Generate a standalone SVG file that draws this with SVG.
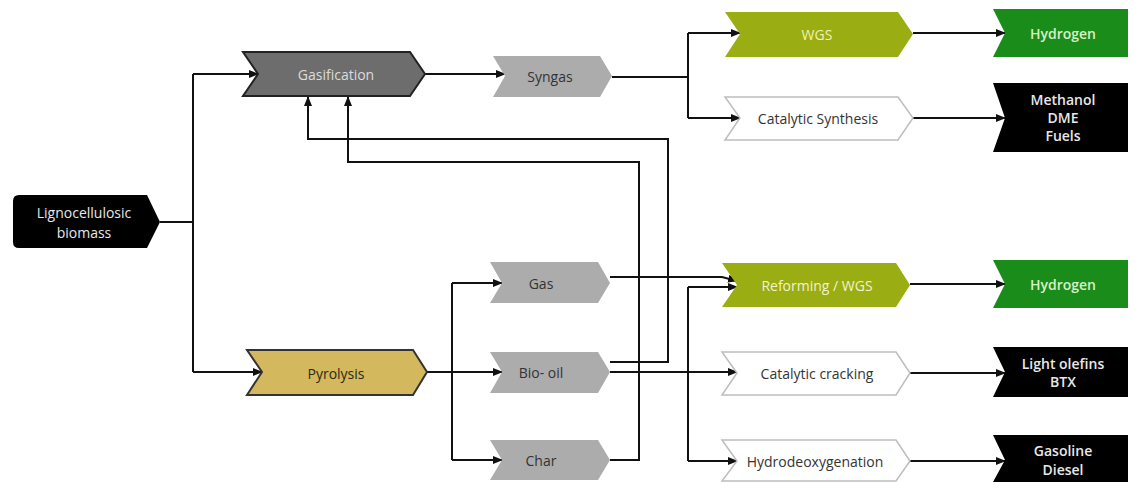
<svg xmlns="http://www.w3.org/2000/svg" width="1137" height="482" viewBox="0 0 1137 482">
<style>
text{font-family:"Open Sans","Liberation Sans",sans-serif;font-size:14px;text-anchor:middle;dominant-baseline:central}
.c{fill:none;stroke:#111;stroke-width:2}
.lt{fill:#e8e8e8}
.dk{fill:#333}
.out{font-weight:600}
</style>
<defs>
<marker id="ah" markerWidth="10" markerHeight="8" refX="9" refY="4" orient="auto" markerUnits="userSpaceOnUse">
<path d="M0,0 L10,4 L0,8 Z" fill="#111"/>
</marker>
</defs>
<rect width="1137" height="482" fill="#fff"/>
<g id="connectors">
<polyline class="c" points="160,222 193,222"/>
<polyline class="c" points="193,74 193,372"/>
<polyline class="c" points="193,74 258,74" marker-end="url(#ah)"/>
<polyline class="c" points="193,372 262,372" marker-end="url(#ah)"/>
<polyline class="c" points="425,74 505,74" marker-end="url(#ah)"/>
<polyline class="c" points="612,77 688,77"/>
<polyline class="c" points="688,33 688,118"/>
<polyline class="c" points="688,33 740,33" marker-end="url(#ah)"/>
<polyline class="c" points="688,118 740,118" marker-end="url(#ah)"/>
<polyline class="c" points="913,33 1005,33" marker-end="url(#ah)"/>
<polyline class="c" points="913,118 1005,118" marker-end="url(#ah)"/>
<polyline class="c" points="610,362 668,362 668,139 308,139 308,97" marker-end="url(#ah)"/>
<polyline class="c" points="610,460 639,460 639,162 348,162 348,97" marker-end="url(#ah)"/>
<polyline class="c" points="427,372 502,372" marker-end="url(#ah)"/>
<polyline class="c" points="452,283 452,460"/>
<polyline class="c" points="452,283 502,283" marker-end="url(#ah)"/>
<polyline class="c" points="452,460 502,460" marker-end="url(#ah)"/>
<polyline class="c" points="610,277 722,277 737,281" marker-end="url(#ah)"/>
<polyline class="c" points="610,372 737,372" marker-end="url(#ah)"/>
<polyline class="c" points="688,287 688,461"/>
<polyline class="c" points="688,287 737,287" marker-end="url(#ah)"/>
<polyline class="c" points="688,461 737,461" marker-end="url(#ah)"/>
<polyline class="c" points="910,284 1005,284" marker-end="url(#ah)"/>
<polyline class="c" points="910,373 1005,373" marker-end="url(#ah)"/>
<polyline class="c" points="910,461 1005,461" marker-end="url(#ah)"/>
</g>
<g id="biomass">
<path d="M19,195 L147,195 L160,222 L147,248 L19,248 Q13,248 13,242 L13,201 Q13,195 19,195 Z" fill="#000"/>
<text x="84" y="212" class="lt" font-size="13">Lignocellulosic</text>
<text x="84" y="232" class="lt" font-size="13">biomass</text>
</g>
<g id="gasification">
<path d="M243,52 L410,52 L425,74 L410,96 L243,96 L258,74 Z" fill="#6d6d6d" stroke="#222" stroke-width="2"/>
<text x="336" y="74" fill="#dcdcdc">Gasification</text>
</g>
<g id="syngas">
<path d="M493,56 L600,56 L612,76 L600,97 L493,97 L505,76 Z" fill="#acacac"/>
<text x="550" y="76" class="dk">Syngas</text>
</g>
<g id="wgs">
<path d="M725,12 L898,12 L913,34 L898,57 L725,57 L740,34 Z" fill="#9aad12"/>
<text x="817" y="34" fill="#f2f2b0">WGS</text>
</g>
<g id="catsynth">
<path d="M725,97 L898,97 L913,118 L898,140 L725,140 L740,118 Z" fill="#fff" stroke="#bdbdbd" stroke-width="1.5"/>
<text x="818" y="118" class="dk">Catalytic Synthesis</text>
</g>
<g id="hydrogen1">
<path d="M993,9 L1128,9 L1128,57 L993,57 L1005,33 Z" fill="#1a8c1a"/>
<text x="1063" y="33" fill="#d8f0c8" class="out">Hydrogen</text>
</g>
<g id="methanol">
<path d="M993,83 L1128,83 L1128,152 L993,152 L1005,118 Z" fill="#000"/>
<text x="1063" y="99" class="lt out">Methanol</text>
<text x="1063" y="117" class="lt out">DME</text>
<text x="1063" y="135" class="lt out">Fuels</text>
</g>
<g id="pyrolysis">
<path d="M247,350 L413,350 L427,372 L413,395 L247,395 L262,372 Z" fill="#d4b85e" stroke="#333" stroke-width="2"/>
<text x="336" y="373" fill="#2a2a10">Pyrolysis</text>
</g>
<g id="gas">
<path d="M490,262 L598,262 L610,283 L598,303 L490,303 L502,283 Z" fill="#acacac"/>
<text x="541" y="283" class="dk">Gas</text>
</g>
<g id="biooil">
<path d="M490,352 L598,352 L610,372 L598,393 L490,393 L502,372 Z" fill="#acacac"/>
<text x="541" y="372" class="dk">Bio- oil</text>
</g>
<g id="char">
<path d="M490,440 L598,440 L610,460 L598,480 L490,480 L502,460 Z" fill="#acacac"/>
<text x="541" y="460" class="dk">Char</text>
</g>
<g id="reforming">
<path d="M722,263 L896,263 L910,285 L896,307 L722,307 L737,285 Z" fill="#9aad12"/>
<text x="817" y="285" fill="#f2f2d0">Reforming / WGS</text>
</g>
<g id="catcracking">
<path d="M722,352 L896,352 L910,373 L896,395 L722,395 L737,373 Z" fill="#fff" stroke="#bdbdbd" stroke-width="1.5"/>
<text x="817" y="373" class="dk">Catalytic cracking</text>
</g>
<g id="hdo">
<path d="M722,440 L896,440 L910,461 L896,481 L722,481 L737,461 Z" fill="#fff" stroke="#bdbdbd" stroke-width="1.5"/>
<text x="815" y="461" class="dk">Hydrodeoxygenation</text>
</g>
<g id="hydrogen2">
<path d="M993,260 L1128,260 L1128,308 L993,308 L1005,284 Z" fill="#1a8c1a"/>
<text x="1063" y="284" fill="#d8f0c8" class="out">Hydrogen</text>
</g>
<g id="olefins">
<path d="M993,347 L1128,347 L1128,397 L993,397 L1005,372 Z" fill="#000"/>
<text x="1063" y="363" class="lt out">Light olefins</text>
<text x="1063" y="381" class="lt out">BTX</text>
</g>
<g id="gasoline">
<path d="M993,435 L1128,435 L1128,482 L993,482 L1005,460 Z" fill="#000"/>
<text x="1063" y="450" class="lt out">Gasoline</text>
<text x="1063" y="469" class="lt out">Diesel</text>
</g>
</svg>
